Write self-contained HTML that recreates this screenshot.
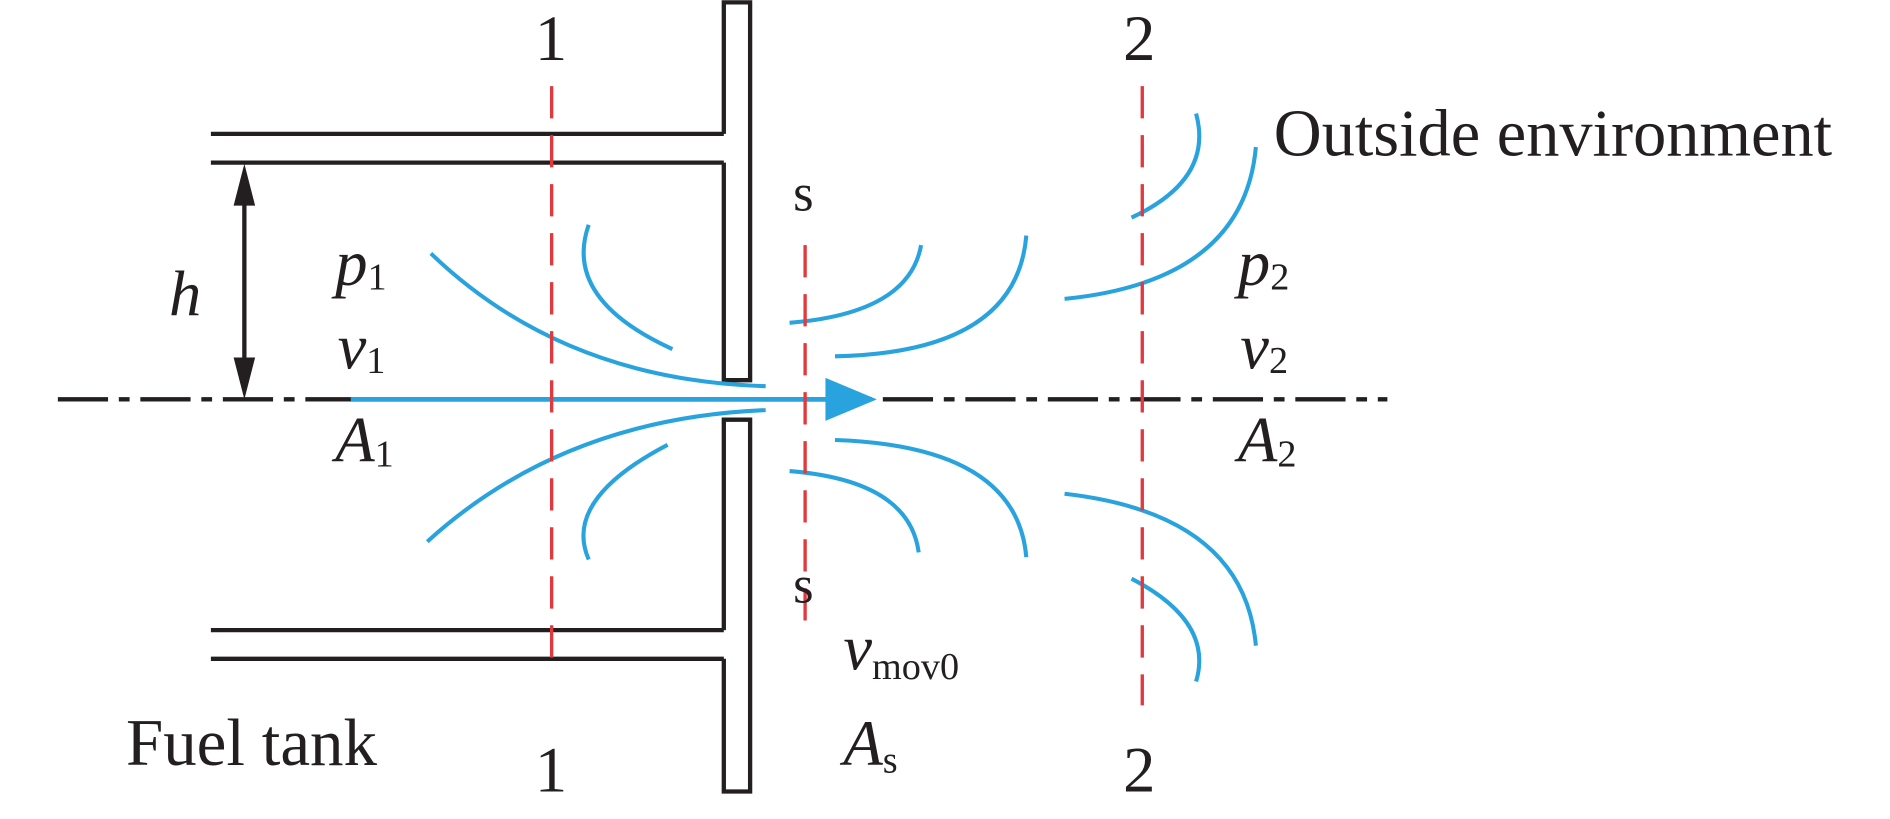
<!DOCTYPE html>
<html><head><style>html,body{margin:0;padding:0;background:#fff}svg{display:block}</style></head>
<body>
<svg width="1890" height="819" viewBox="0 0 1580 685" xmlns="http://www.w3.org/2000/svg" font-family="'Liberation Serif', serif" fill="#231f20">
<!-- pipes -->
<g stroke="#231f20" stroke-width="3.6" fill="none">
<line x1="176" y1="112" x2="605" y2="112"/>
<line x1="176" y1="136" x2="605" y2="136"/>
<line x1="176" y1="527" x2="605" y2="527"/>
<line x1="176" y1="551" x2="605" y2="551"/>
<polyline points="605,112 605,2 627,2 627,318 605,318 605,136"/>
<polyline points="605,527 605,351 627,351 627,662 605,662 605,551"/>
<line x1="48" y1="334" x2="1160" y2="334" stroke-dasharray="42,9,9,9"/>
<line x1="204" y1="150" x2="204" y2="320"/>
</g>
<polygon points="204,137 195,172 213,172" />
<polygon points="204,334 195,299 213,299" />
<!-- blue -->
<g stroke="#29a3dd" stroke-width="3.4" fill="none">
<line x1="293" y1="334" x2="695" y2="334" stroke-width="4"/>
<path d="M360,212 Q470,318 640,323"/>
<path d="M492,188 Q470,250 562,292"/>
<path d="M357,453 Q470,350 640,343"/>
<path d="M492,468 Q470,418 558,372"/>
<path d="M660,270 Q760,262 770,205"/>
<path d="M698,298 Q850,295 858,197"/>
<path d="M890,250 Q1040,235 1050,123"/>
<path d="M946,182 Q1015,150 1000,95"/>
<path d="M660,394 Q760,402 768,462"/>
<path d="M698,368 Q850,373 858,466"/>
<path d="M890,413 Q1040,430 1050,540"/>
<path d="M946,484 Q1015,520 1000,570"/>
</g>
<polygon points="690,316 733,334 690,352" fill="#29a3dd"/>
<!-- red dashed -->
<g stroke="#e03a3e" stroke-width="2.8" stroke-dasharray="27,14">
<line x1="461" y1="72" x2="461" y2="560"/>
<line x1="955" y1="72" x2="955" y2="590"/>
<line x1="673" y1="205" x2="673" y2="520"/>
</g>
<!-- text -->
<g font-size="54">
<text x="447" y="50">1</text>
<text x="939" y="50">2</text>
<text x="447" y="662">1</text>
<text x="939" y="662">2</text>
<text x="663" y="176" font-size="44">s</text>
<text x="663" y="504" font-size="44">s</text>
<text x="1065" y="130" font-size="55.5">Outside environment</text>
<text x="105" y="640" font-size="56">Fuel tank</text>
<text x="141" y="264" font-style="italic">h</text>
<text x="280" y="238" font-style="italic">p<tspan font-size="32" font-style="normal" dy="4">1</tspan></text>
<text x="282" y="308" font-style="italic">v<tspan font-size="32" font-style="normal" dy="4">1</tspan></text>
<text x="280" y="386" font-style="italic">A<tspan font-size="32" font-style="normal" dy="4">1</tspan></text>
<text x="1035" y="238" font-style="italic">p<tspan font-size="32" font-style="normal" dy="4">2</tspan></text>
<text x="1037" y="308" font-style="italic">v<tspan font-size="32" font-style="normal" dy="4">2</tspan></text>
<text x="1035" y="386" font-style="italic">A<tspan font-size="32" font-style="normal" dy="4">2</tspan></text>
<text x="705" y="560" font-style="italic">v<tspan font-size="32" font-style="normal" dy="8">mov0</tspan></text>
<text x="705" y="640" font-style="italic">A<tspan font-size="32" font-style="normal" dy="6">s</tspan></text>
</g>
</svg>
</body></html>
